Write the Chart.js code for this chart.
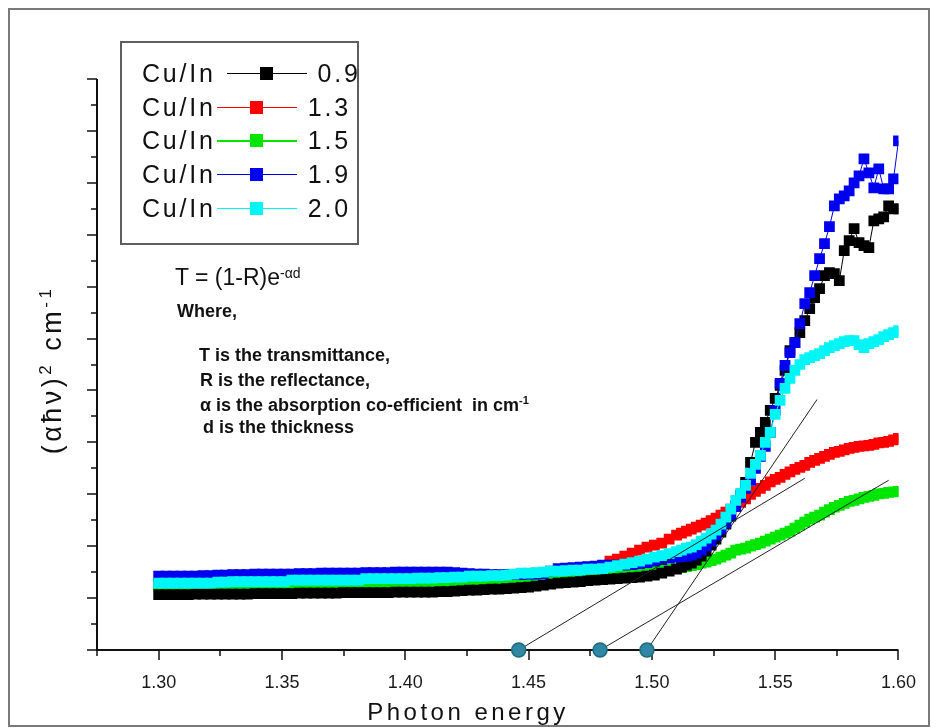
<!DOCTYPE html>
<html>
<head>
<meta charset="utf-8">
<script src="https://cdn.jsdelivr.net/npm/chart.js@4.4.1/dist/chart.umd.min.js"></script>
<style>
  html, body { margin: 0; padding: 0; background: #fff; }
  #wrap { position: relative; width: 938px; height: 728px; overflow: hidden;
          font-family: 'Liberation Sans', Arial, sans-serif; color: #111; }
  #c { position: absolute; left: 0; top: 0; }
  #frame { position: absolute; left: 8px; top: 8px; width: 922px; height: 719px;
           box-sizing: border-box; border: 2px solid #7a7a7a; pointer-events: none; }
  #legendBox { position: absolute; left: 120px; top: 41px; width: 239px; height: 204px;
               box-sizing: border-box; border: 2px solid #5e5e5e; }
  .lrow { position: absolute; left: 142px; display: flex; align-items: center;
          font-size: 25px; line-height: 25px; letter-spacing: 2.8px; white-space: pre; }
  .lmark { position: relative; width: 80px; height: 13px; margin-left: 1px; }
  .lmark .ln { position: absolute; left: 0; right: 0; top: 6px; height: 1.3px; }
  .lmark .sq { position: absolute; left: 33px; top: 0; width: 13px; height: 13px; }
  .lval { margin-left: 11px; }
  .note { position: absolute; white-space: pre; }
  .formula { font-size: 23px; line-height: 23px; }
  .formula sup { font-size: 14px; line-height: 0; vertical-align: 7px; }
  .bold { font-weight: bold; font-size: 18px; line-height: 18px; }
  .bold sup { font-size: 11px; line-height: 0; vertical-align: 7px; }
  #xTitle { position: absolute; left: 468px; top: 700px; transform: translateX(-50%);
            font-size: 24px; line-height: 24px; letter-spacing: 3.5px; white-space: nowrap; }
  #yTitle { position: absolute; left: 52px; top: 370px; transform: translate(-50%, -50%) rotate(-90deg);
            font-size: 27px; line-height: 27px; letter-spacing: 3.5px; white-space: nowrap; }
  #yTitle sup { font-size: 17px; line-height: 0; vertical-align: 10px; }
</style>
</head>
<body>
<div id="wrap">
  <canvas id="c" width="938" height="728"></canvas>
  <div id="frame"></div>
  <div id="legendBox"></div>
  <div id="legendRows"></div>
  <div class="note formula" style="left:175px; top:266px;">T = (1-R)e<sup>-αd</sup></div>
  <div class="note bold" style="left:177px; top:302px;">Where,</div>
  <div class="note bold" style="left:199px; top:346px;">T is the transmittance,</div>
  <div class="note bold" style="left:200px; top:371px;">R is the reflectance,</div>
  <div class="note bold" style="left:200px; top:396px;">α is the absorption co-efficient  in cm<sup>-1</sup></div>
  <div class="note bold" style="left:203px; top:418px;">d is the thickness</div>
  <div id="xTitle">Photon energy</div>
  <div id="yTitle">(αħν)<sup>2</sup> cm<sup>-1</sup></div>
</div>
<script>
// Photon energy (eV) of each measured point (finer sampling across the absorption edge)
const energy = [
  1.300,1.303,1.306,1.309,1.312,1.315,1.318,1.321,1.324,1.327,
  1.330,1.333,1.336,1.339,1.342,1.345,1.348,1.351,1.354,1.357,
  1.360,1.363,1.366,1.369,1.372,1.375,1.378,1.381,1.384,1.387,
  1.390,1.393,1.396,1.399,1.402,1.405,1.408,1.411,1.414,1.417,
  1.420,1.423,1.426,1.429,1.432,1.435,1.438,1.441,1.444,1.447,
  1.450,1.453,1.456,1.459,1.462,1.465,1.468,1.471,1.474,1.477,
  1.480,1.483,1.486,1.489,1.492,1.495,1.498,1.501,1.504,1.507,
  1.510,1.512,1.514,1.516,1.518,1.520,1.522,1.524,1.526,1.528,
  1.530,1.532,1.534,1.536,1.538,1.540,1.542,1.544,1.546,1.548,
  1.550,1.552,1.554,1.556,1.558,1.560,1.562,1.564,1.566,1.568,
  1.570,1.572,1.574,1.576,1.578,1.580,1.582,1.584,1.586,1.588,
  1.590,1.592,1.594,1.596,1.598,1.600
];

// (αhν)² in arbitrary units, one array per Cu/In ratio
const cuIn09 = [
  55.5,55.5,55.5,55.5,55.5,56,56,56,56,56,
  56,56,56,56.5,56.5,56.5,56.5,56.5,56.5,57,
  57,57,57,57,57,57.5,57.5,57.5,57.5,57.5,
  57.5,57.5,58,58,58,58,58,58,58.5,58.5,
  59,59.5,60,60,60.5,61,61,61.5,62,62.5,
  63,64,65,66,67,67.5,68,68.5,69.5,70,
  70.5,71,71.5,72,72.5,73,74,75,77,79,
  81,83,85,87,90,94,99,105,111,118,
  126,134,144,155,168,188,208,218,228,240,
  252,265,280,300,308,318,330,342,353,362,
  375,378,377,370,400,410,422,408,405,403,
  430,432,434,445,442,442
];
const cuIn13 = [
  66.5,66.5,66.5,66.5,66.5,66.5,66.5,66.5,67.5,67.5,
  68,68,68,68,68,68,68,68,69.5,69.5,
  69.5,69.5,69.5,69.5,69.5,69.5,69.5,69.5,71,71,
  71,71,71,71,71,71.5,71.5,71.5,72,72,
  72.5,72.5,73.5,73.5,73.5,74,74,74.5,75.5,76.5,
  76.5,77,77.5,78.5,78.5,79,79.5,80,81,82,
  84,89,91,94,97,100,103,105,107,111,
  115,117,119,121,123,125,127,129.5,132,135,
  138,141,145,148,151.5,156,159,162,165,168.5,
  171,173,176,178.5,181,183,185,188,190,192,
  194,196,198,199,200.5,202,203,204,204.5,205,
  206,207.5,208,209,210.5,212
];
const cuIn15 = [
  65,65,65,65,65,65,65,65.5,65.5,65.5,
  65.5,65.5,65.5,66,66,66,66,66,66,66.5,
  66.5,66.5,66.5,66.5,66.5,67,67,67,67,67,
  67.5,67.5,67.5,67.5,67.5,67.5,68,68,68,68,
  68.3,68.5,68.5,68.5,69,69,69,69,69.5,69.5,
  70,70,70.5,71,71.5,72,72,72.5,73,73,
  73.5,74,74.5,75,76,77,78,79,80,81,
  82,82.5,83.5,84.5,85.5,87,88,89.5,91,93,
  95,97,100,101,102,104,105.5,107,109,111,
  113,115,117,119,122,125,128,131,133,135,
  138,140.5,143,145,147,149,150,151.5,153,154,
  155,156.5,157,158,158.5,159
];
const cuIn19 = [
  74,74,74,74,74,74,74.5,74.5,75,75,
  75.5,75.5,75.5,76,76,76,76,76,76,76.5,
  76.5,76.5,77,77,77,77,77,77,77.5,77.5,
  77.5,77.5,78,78,78,78,78,78,78,78,
  77.5,77,76.5,76,76,75.5,75.5,75.5,75.5,75.5,
  76,76,76.5,79,81.5,82,82.5,83,83.5,84,
  85,85,85,85,85.5,86.5,87.5,89,90.5,92,
  93,93.5,94,95,97,100,104,109,115,121,
  127,135,144,153,162,170,182,194,204,218,
  240,267,285,298,308,327,347,358,375,392,
  407,424,445,452,455,460,468,475,492,478,
  463,482,462,462,472,510
];
const cuIn20 = [
  67,67,67,67,67,67,67,67,68,68,
  68.5,68.5,68.5,68.5,68.5,68.5,68.5,68.5,70,70,
  70,70,70,70,70,70,70,70,71.5,71.5,
  71.5,71.5,71.5,71.5,71.5,72,72,72,72.5,72.5,
  73,73,74,74,74,74.5,74.5,75,76,77,
  77,77.5,78,79,79,79.5,80,80,81,81,
  81.5,83,84.5,86,87.5,89,91,93,94.5,96.5,
  98.5,100,102,103,105.5,109,112,116,120,126,
  133,141,150,157,165,177,186,195,208,218,
  236,250,262,272,280,286,291,293,295,297,
  300,303,305,307,309,310,310,306,303,307,
  309,311,314,316,318,320
];

// Legend entries, in listing order
const seriesNames  = ['Cu/In ', 'Cu/In', 'Cu/In', 'Cu/In', 'Cu/In'];
const seriesRatios = ['0.9', '1.3', '1.5', '1.9', '2.0'];
const seriesColors = ['#000000', '#ff0000', '#00e600', '#0000f0', '#00f6f6'];
const seriesValues = [cuIn09, cuIn13, cuIn15, cuIn19, cuIn20];
// Drawing depth of each series (lower = drawn on top)
const seriesDepth  = [2, 4, 3, 1, 0];

// Linear fits extrapolated to the energy axis (band-gap intercepts)
const fitIntercepts = [1.446, 1.479, 1.498];
const fitEndEnergy  = [1.562, 1.596, 1.567];
const fitEndValue   = [172, 170, 251];

// Axis ticks
const xMajorTicks = [1.30, 1.35, 1.40, 1.45, 1.50, 1.55, 1.60];
const xMinorTicks = [1.275, 1.325, 1.375, 1.425, 1.475, 1.525, 1.575];
const yMin = 0, yMax = 572, yStep = 26;

// Legend rows
const rowsHost = document.getElementById('legendRows');
seriesNames.forEach((name, k) => {
  const row = document.createElement('div');
  row.className = 'lrow';
  row.style.top = (61 + 33.7 * k) + 'px';
  const lab = document.createElement('span');
  lab.textContent = name;
  const mark = document.createElement('span');
  mark.className = 'lmark';
  mark.innerHTML = '<span class="ln"></span><span class="sq"></span>';
  mark.querySelector('.ln').style.background = seriesColors[k];
  mark.querySelector('.sq').style.background = seriesColors[k];
  const val = document.createElement('span');
  val.className = 'lval';
  val.textContent = seriesRatios[k];
  row.append(lab, mark, val);
  rowsHost.appendChild(row);
});

// Axis lines with long (major) and short (minor) outward ticks
const axisFrame = {
  id: 'axisFrame',
  beforeDatasetsDraw(chart) {
    const { ctx, chartArea: a, scales: { x, y } } = chart;
    ctx.save();
    ctx.strokeStyle = '#111';
    ctx.lineWidth = 2;
    ctx.beginPath();
    ctx.moveTo(a.left, a.top);
    ctx.lineTo(a.left, a.bottom);
    ctx.lineTo(a.right, a.bottom);
    ctx.stroke();
    ctx.lineWidth = 1.5;
    ctx.beginPath();
    xMajorTicks.forEach(v => {
      const px = Math.round(x.getPixelForValue(v));
      ctx.moveTo(px, a.bottom); ctx.lineTo(px, a.bottom + 10);
    });
    xMinorTicks.forEach(v => {
      const px = Math.round(x.getPixelForValue(v));
      ctx.moveTo(px, a.bottom); ctx.lineTo(px, a.bottom + 6);
    });
    for (let v = yMin; v <= yMax; v += yStep) {
      const py = Math.round(y.getPixelForValue(v));
      const len = (v % (2 * yStep) === 0) ? 10 : 6;
      ctx.moveTo(a.left - len, py); ctx.lineTo(a.left, py);
    }
    ctx.stroke();
    ctx.restore();
  }
};

const curveSets = seriesValues.map((vals, k) => ({
  label: seriesNames[k].trim() + ' ' + seriesRatios[k],
  data: energy.map((e, i) => ({ x: e, y: vals[i] })),
  borderColor: seriesColors[k],
  backgroundColor: seriesColors[k],
  borderWidth: 1,
  pointStyle: 'rect',
  pointRadius: 7.6,
  pointBorderWidth: 0,
  pointBackgroundColor: seriesColors[k],
  tension: 0,
  order: seriesDepth[k]
}));

const fitSets = fitIntercepts.map((e0, k) => ({
  label: 'fit ' + (k + 1),
  data: [{ x: e0, y: 0 }, { x: fitEndEnergy[k], y: fitEndValue[k] }],
  borderColor: '#222',
  borderWidth: 1,
  pointRadius: 0,
  tension: 0,
  order: -1
}));

const interceptSet = {
  label: 'intercepts',
  data: fitIntercepts.map(e0 => ({ x: e0, y: 0 })),
  showLine: false,
  pointStyle: 'circle',
  pointRadius: 7,
  pointBackgroundColor: '#2f88a3',
  pointBorderColor: '#1c6a80',
  pointBorderWidth: 1.5,
  clip: false,
  order: -2
};

Chart.defaults.font.family = "'Liberation Sans', Arial, sans-serif";

new Chart(document.getElementById('c'), {
  type: 'line',
  data: { datasets: [...curveSets, ...fitSets, interceptSet] },
  options: {
    responsive: false,
    animation: false,
    devicePixelRatio: 1,
    layout: { padding: { left: 10, top: 79, right: 36, bottom: 8 } },
    plugins: { legend: { display: false }, tooltip: { enabled: false } },
    scales: {
      x: {
        type: 'linear',
        min: 1.275,
        max: 1.60,
        grid: { display: false, drawTicks: false },
        border: { display: false },
        afterBuildTicks: s => { s.ticks = xMajorTicks.map(v => ({ value: v })); },
        afterFit: s => { s.height = 70; },
        ticks: {
          padding: 22,
          color: '#1a1a1a',
          font: { size: 18 },
          autoSkip: false,
          maxRotation: 0,
          callback: v => Number(v).toFixed(2)
        }
      },
      y: {
        type: 'linear',
        min: yMin,
        max: yMax,
        grid: { display: false, drawTicks: false },
        border: { display: false },
        ticks: { display: false },
        afterFit: s => { s.width = 87; }
      }
    }
  },
  plugins: [axisFrame]
});
</script>
</body>
</html>
